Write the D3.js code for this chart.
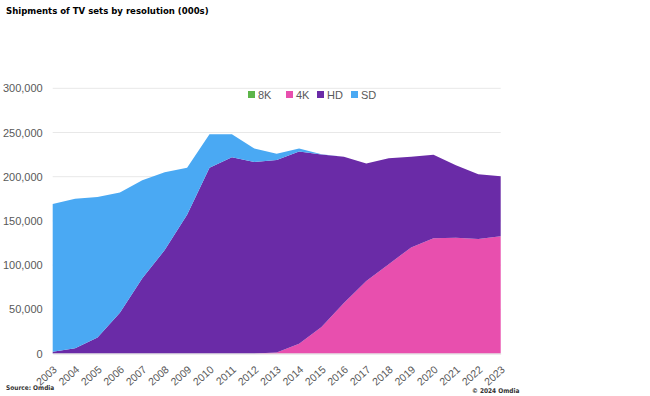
<!DOCTYPE html>
<html>
<head>
<meta charset="utf-8">
<script src="https://cdn.jsdelivr.net/npm/d3@7"></script>
<style>
  body { margin: 0; background: #fff; }
  text { font-family: "Liberation Sans", "Open Sans", sans-serif; }
  .narrow { font-family: "Liberation Sans Narrow", "DejaVu Sans Condensed", sans-serif; }
</style>
</head>
<body>
<div id="chart"></div>
<script>
// data (thousands of units)
const years = ["2003","2004","2005","2006","2007","2008","2009","2010","2011","2012","2013",
               "2014","2015","2016","2017","2018","2019","2020","2021","2022","2023"];
const k8 = [0,0,0,0,0,0,0,0,0,0,0,0,0,0,0,0,0.1,0.2,0.3,0.3,0.4];
const k4 = [0,0,0,0,0,0,0,0,0,0,1000,11000,30000,57000,82000,101000,120000,130300,131000,129400,132600];
const hd = [2000,6000,18000,46000,85000,117000,157000,210000,222000,216500,218000,
            217500,195000,165500,133000,120000,102500,94500,82000,73500,68000];
const sd = [167000,169000,159000,136000,111000,88000,53000,38000,26000,15500,7000,
            3500,500,0,0,0,0,0,0,0,0];
const seriesNames = ["8K", "4K", "HD", "SD"];
const yTicks = [0, 50000, 100000, 150000, 200000, 250000, 300000];

const colors = { "8K": "#5db54a", "4K": "#e84fae", "HD": "#6a2ba7", "SD": "#4aa9f3" };

const width = 650, height = 396;
const margin = { left: 52.7, right: 149.3, top: 88.3, bottom: 42.5 };

const rows = years.map((y, i) => ({ year: y, "8K": k8[i], "4K": k4[i], "HD": hd[i], "SD": sd[i] }));
const stacked = d3.stack().keys(seriesNames)(rows);

const svg = d3.select('#chart')
  .append('svg')
  .attr('width', width)
  .attr('height', height);

const x = d3.scalePoint()
  .domain(years)
  .range([margin.left, width - margin.right]);

const y = d3.scaleLinear()
  .domain([0, 300000])
  .range([height - margin.bottom, margin.top]);

// title
svg.append('text')
  .attr('class', 'narrow')
  .attr('x', 6).attr('y', 14)
  .style('font-size', '9.5px')
  .style('font-weight', 'bold')
  .style('fill', '#000')
  .text('Shipments of TV sets by resolution (000s)');

// gridlines
svg.append('g')
  .selectAll('line')
  .data(yTicks.slice(1))
  .enter()
  .append('line')
  .attr('x1', margin.left).attr('x2', width - margin.right)
  .attr('y1', d => y(d)).attr('y2', d => y(d))
  .attr('stroke', '#e8e8e8')
  .attr('stroke-width', 1);

// areas
const area = d3.area()
  .x(d => x(d.data.year))
  .y0(d => y(d[0]))
  .y1(d => y(d[1]));

svg.append('g')
  .selectAll('path')
  .data(stacked)
  .enter()
  .append('path')
  .attr('d', area)
  .attr('fill', d => colors[d.key]);

// y axis
const yAxis = svg.append('g')
  .attr('transform', `translate(${margin.left},0)`)
  .call(d3.axisLeft(y).tickValues(yTicks).tickFormat(d3.format(',')).tickSize(0).tickPadding(10));
yAxis.select('.domain').remove();
yAxis.selectAll('text')
  .style('font-size', '11px')
  .style('fill', '#595959');

// x axis
const xAxis = svg.append('g')
  .attr('transform', `translate(0,${height - margin.bottom})`)
  .call(d3.axisBottom(x).tickSize(0));
xAxis.select('.domain')
  .attr('stroke', '#d9d9d9');
xAxis.selectAll('text')
  .style('font-size', '10.5px')
  .style('fill', '#595959')
  .style('text-anchor', 'end')
  .attr('dy', '0.35em')
  .attr('transform', 'translate(0,12) rotate(-42)');

// legend
const legendX = [248, 286, 317, 351];
const legend = svg.append('g')
  .selectAll('g')
  .data(seriesNames)
  .enter()
  .append('g')
  .attr('transform', (d, i) => `translate(${legendX[i]},91)`);
legend.append('rect')
  .attr('width', 7).attr('height', 7)
  .attr('fill', d => colors[d]);
legend.append('text')
  .attr('x', 10).attr('y', 7.5)
  .style('font-size', '11px')
  .style('fill', '#595959')
  .text(d => d);

// footer
svg.append('text')
  .attr('class', 'narrow')
  .attr('x', 6).attr('y', 390)
  .style('font-size', '6.5px')
  .style('font-weight', 'bold')
  .style('fill', '#333')
  .text('Source: Omdia');
svg.append('text')
  .attr('class', 'narrow')
  .attr('x', 472).attr('y', 393)
  .style('font-size', '6.5px')
  .style('font-weight', 'bold')
  .style('fill', '#333')
  .text('© 2024 Omdia');
</script>
</body>
</html>
